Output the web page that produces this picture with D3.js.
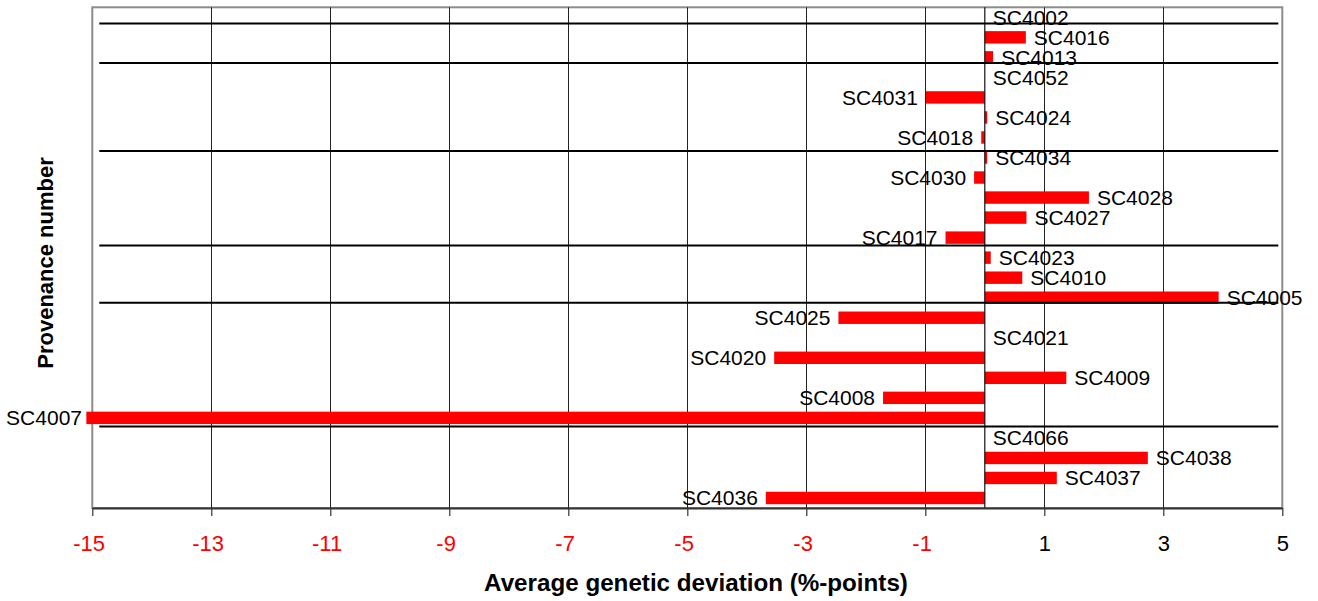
<!DOCTYPE html>
<html>
<head>
<meta charset="utf-8">
<script src="https://cdn.jsdelivr.net/npm/d3@7"></script>
<style>
  html, body { margin: 0; padding: 0; background: #fff; }
  svg { display: block; font-family: "Liberation Sans", Arial, sans-serif; }
</style>
</head>
<body>
<svg id="chart" width="1318" height="601"></svg>
<script>
// ---- data ----
const categories = ["SC4002","SC4016","SC4013","SC4052","SC4031","SC4024","SC4018","SC4034","SC4030","SC4028","SC4027","SC4017","SC4023","SC4010","SC4005","SC4025","SC4021","SC4020","SC4009","SC4008","SC4007","SC4066","SC4038","SC4037","SC4036"];
const values = [0, 0.69, 0.14, 0, -0.99, 0.04, -0.06, 0.04, -0.18, 1.75, 0.70, -0.66, 0.10, 0.63, 3.93, -2.46, 0, -3.54, 1.37, -1.71, -15.1, 0, 2.74, 1.21, -3.68];
// group separator lines, in category-index units
const separators = [0.31, 2.28, 6.67, 11.39, 14.25, 20.43];
const tickValues = [-15, -13, -11, -9, -7, -5, -3, -1, 1, 3, 5];
const tickLabels = ["-15", "-13", "-11", "-9", "-7", "-5", "-3", "-1", "1", "3", "5"];
const xTitle = "Average genetic deviation (%-points)";
const yTitle = "Provenance number";

(function () {
// ---- layout ----
const svg = d3.select("#chart");
const pL = 92.3, pR = 1282.3, pT = 7.3, pB = 508;

const x = d3.scaleLinear().domain([-15, 5]).range([pL, pR]);
const y = d3.scaleBand().domain(categories).range([pT, pB]).paddingInner(0.38).paddingOuter(0.19);
const bw = y.bandwidth();
const yIdx = d3.scaleLinear().domain([0, categories.length - 1])
  .range([y(categories[0]) + bw / 2, y(categories[categories.length - 1]) + bw / 2]);

// frame
svg.append("rect")
  .attr("x", pL).attr("y", pT)
  .attr("width", pR - pL).attr("height", pB - pT)
  .attr("fill", "none").attr("stroke", "#8c8c8c").attr("stroke-width", 2);

// vertical gridlines
svg.append("g").selectAll("line")
  .data(tickValues.filter(t => t > -15 && t < 5))
  .join("line")
  .attr("x1", d => Math.round(x(d)) + 0.5).attr("x2", d => Math.round(x(d)) + 0.5)
  .attr("y1", pT).attr("y2", pB)
  .attr("stroke", "#222").attr("stroke-width", 1);

// bars
const data = categories.map((c, i) => ({ c, v: values[i] }));
svg.append("g").selectAll("rect")
  .data(data.filter(d => d.v !== 0))
  .join("rect")
  .attr("x", d => x(Math.min(0, d.v)))
  .attr("width", d => Math.abs(x(d.v) - x(0)))
  .attr("y", d => y(d.c))
  .attr("height", bw)
  .attr("fill", "#ff0000");

// zero line
svg.append("line")
  .attr("x1", x(0)).attr("x2", x(0))
  .attr("y1", pT).attr("y2", pB)
  .attr("stroke", "#111").attr("stroke-width", 1.2);

// separator lines
svg.append("g").selectAll("line")
  .data(separators)
  .join("line")
  .attr("x1", pL + 7).attr("x2", pR - 4)
  .attr("y1", d => yIdx(d)).attr("y2", d => yIdx(d))
  .attr("stroke", "#000").attr("stroke-width", 2);

// data labels
svg.append("g").selectAll("text")
  .data(data)
  .join("text")
  .attr("x", d => d.v < 0 ? Math.max(x(d.v) - 8, 82) : x(d.v) + 8)
  .attr("y", d => y(d.c) + bw / 2 + 7.5)
  .attr("text-anchor", d => d.v < 0 ? "end" : "start")
  .attr("font-size", 21)
  .attr("fill", "#000")
  .text(d => d.c);

// x axis
const axis = svg.append("g")
  .attr("transform", `translate(0,${pB})`)
  .call(d3.axisBottom(x).tickValues(tickValues).tickSize(8).tickSizeOuter(0)
    .tickFormat((d, i) => tickLabels[i]));
axis.select(".domain").attr("stroke", "#333").attr("stroke-width", 2.2);
axis.selectAll(".tick line").attr("stroke", "#333").attr("stroke-width", 1.2);
axis.selectAll(".tick text")
  .attr("font-family", "Liberation Sans, Arial, sans-serif")
  .attr("font-size", 22)
  .attr("y", 0).attr("dy", 0)
  .attr("transform", "translate(0,43)")
  .attr("dx", d => d < 0 ? -3.7 : 0)
  .attr("fill", d => d < 0 ? "#ff0000" : "#000");

// axis titles
svg.append("text")
  .attr("x", 696).attr("y", 591)
  .attr("text-anchor", "middle")
  .attr("font-size", 24.2).attr("font-weight", "bold")
  .text(xTitle);

svg.append("text")
  .attr("transform", "translate(53,263) rotate(-90)")
  .attr("text-anchor", "middle")
  .attr("font-size", 22).attr("font-weight", "bold")
  .text(yTitle);
})();
</script>
</body>
</html>
